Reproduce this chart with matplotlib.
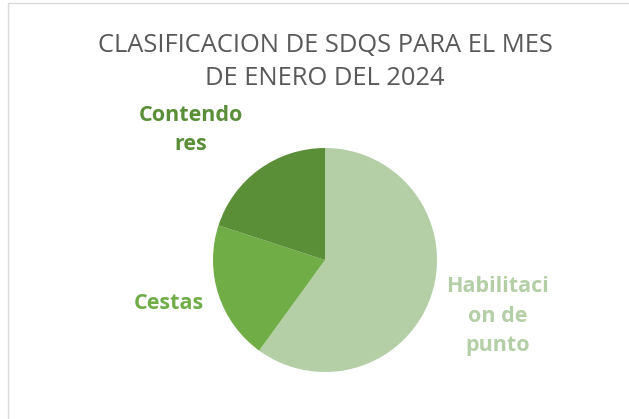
import matplotlib
matplotlib.use("Agg")
import matplotlib.pyplot as plt
from matplotlib.patches import Rectangle

# ---------------------------------------------------------------------------
# Data
# ---------------------------------------------------------------------------
categories = ["Habilitacion de punto", "Cestas", "Contendores"]
wrapped = ["Habilitaci\non de\npunto", "Cestas", "Contendo\nres"]
values = [3, 1, 1]
colors = ["#B4CFA6", "#70AD47", "#5A8F38"]

W, H = 629, 419
fig = plt.figure(figsize=(W / 100, H / 100), dpi=100)

# chart frame
fig.patches.append(Rectangle((8 / W, -0.1), 1.0, 1.1 - 3 / H,
                             transform=fig.transFigure, fill=False,
                             edgecolor="#D9D9D9", linewidth=1.0))

# pie axes: centre (325, 260) px, radius 112 px
cx, cy, r = 325, 260, 112
ax = fig.add_axes([(cx - r) / W, (H - cy - r) / H, 2 * r / W, 2 * r / H])
ax.pie(values, colors=colors, startangle=90, counterclock=False,
       radius=1.0, wedgeprops=dict(linewidth=0))
ax.set_xlim(-1, 1)
ax.set_ylim(-1, 1)
ax.set_aspect("equal")
ax.axis("off")

fig.text(325 / W, 1 - 62 / H, "CLASIFICACION DE SDQS PARA EL MES\nDE ENERO DEL 2024",
         ha="center", va="center", fontsize=18.4, color="#595959",
         family="Open Sans", linespacing=1.4)

# data labels (pixel positions of label centres)
label_pos = [(498, 316), (169, 303), (191, 130)]
for txt, col, (lx, ly) in zip(wrapped, colors, label_pos):
    fig.text(lx / W, 1 - ly / H, txt, ha="center", va="center",
             fontsize=15.5, fontweight="bold", color=col,
             family="Open Sans", linespacing=1.55, zorder=5)

fig.savefig("out.png", dpi=100)
